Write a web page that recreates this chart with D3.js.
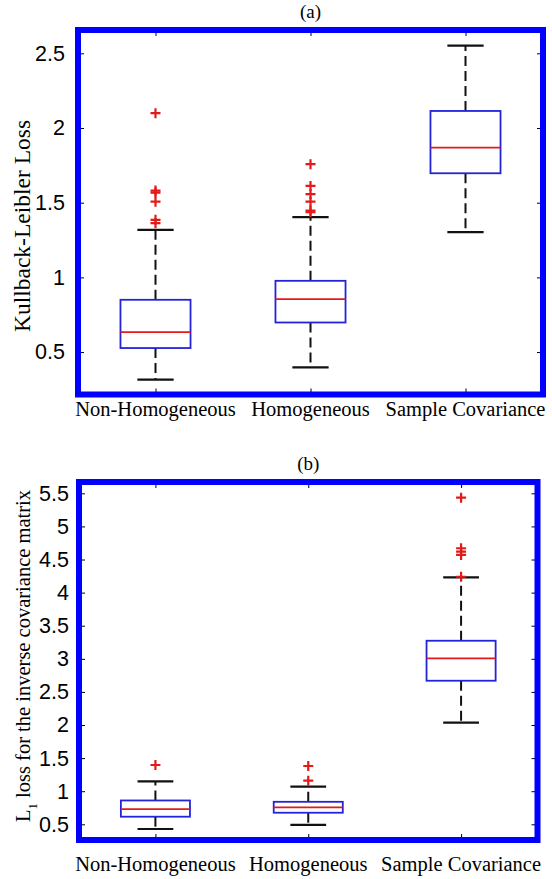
<!DOCTYPE html>
<html>
<head>
<meta charset="utf-8">
<script src="https://cdn.jsdelivr.net/npm/d3@7"></script>
<style>
  html, body { margin: 0; padding: 0; background: #fff; }
  svg { display: block; }
</style>
</head>
<body>
<div id="chart"></div>
<script>
// ---------- data ----------
const categories = ["Non-Homogeneous", "Homogeneous", "Sample Covariance"];

// Panel (a): Kullback-Leibler loss
const klLow      = [0.315, 0.397, 1.303];
const klQ1       = [0.527, 0.698, 1.697];
const klMedian   = [0.634, 0.855, 1.869];
const klQ3       = [0.850, 0.977, 2.114];
const klHigh     = [1.318, 1.403, 2.551];
const klOutliers = [
  [2.099, 1.581, 1.568, 1.507, 1.385, 1.363],
  [1.758, 1.612, 1.557, 1.507, 1.447, 1.436],
  []
];
const klTicks = [0.5, 1, 1.5, 2, 2.5];
const klDomain = [0.216, 2.656];

// Panel (b): L1 loss for the inverse covariance matrix
const l1Low      = [0.429, 0.490, 2.035];
const l1Q1       = [0.615, 0.675, 2.669];
const l1Median   = [0.729, 0.757, 3.008];
const l1Q3       = [0.860, 0.840, 3.273];
const l1High     = [1.148, 1.068, 4.231];
const l1Outliers = [
  [1.396],
  [1.381, 1.159],
  [5.434, 4.670, 4.620, 4.570, 4.240]
];
const l1Ticks = [0.5, 1, 1.5, 2, 2.5, 3, 3.5, 4, 4.5, 5, 5.5];
const l1Domain = [0.263, 5.671];

// ---------- drawing ----------
const W = 552, H = 879;
const svg = d3.select("#chart").append("svg")
  .attr("width", W).attr("height", H)
  .attr("viewBox", `0 0 ${W} ${H}`);
svg.append("rect").attr("width", W).attr("height", H).attr("fill", "#fff");

const SERIF = "'Liberation Serif', 'Times New Roman', Times, serif";
const SANS = "'Liberation Sans', Arial, Helvetica, sans-serif";

function panel(cfg) {
  const { frame, domain, ticks, low, q1, med, q3, high, outliers,
          title, titleY, yLabel, yLabelX, yLabelY, yLabelSize, tickPad, xLabelY } = cfg;
  const x = d3.scaleLinear().domain([0.5, 3.5]).range([frame.left, frame.right]);
  const y = d3.scaleLinear().domain(domain).range([frame.bottom, frame.top]);
  const g = svg.append("g");

  // title
  svg.append("text")
    .attr("x", (frame.left + frame.right) / 2).attr("y", titleY)
    .attr("text-anchor", "middle")
    .style("font-family", SERIF).style("font-size", "19px")
    .text(title);

  // axes (ticks inward)
  const left = d3.axisLeft(y).tickValues(ticks).tickSize(-6).tickPadding(tickPad)
    .tickFormat(d3.format("~g"));
  const gl = g.append("g").attr("transform", `translate(${frame.left},0)`).call(left);
  gl.select(".domain").remove();
  gl.selectAll("text").style("font-family", SANS).style("font-size", "21.5px").attr("fill", "#000");
  gl.selectAll("line").attr("stroke", "#000");

  const right = d3.axisRight(y).tickValues(ticks).tickSize(-6).tickFormat("");
  const gr = g.append("g").attr("transform", `translate(${frame.right},0)`).call(right);
  gr.select(".domain").remove();
  gr.selectAll("line").attr("stroke", "#000");

  const catPos = categories.map((c, i) => i + 1);
  const bottom = d3.axisBottom(x).tickValues(catPos).tickSize(-6).tickPadding(0)
    .tickFormat("");
  const gb = g.append("g").attr("transform", `translate(0,${frame.bottom})`).call(bottom);
  gb.select(".domain").remove();
  gb.selectAll("line").attr("stroke", "#000");
  const top = d3.axisTop(x).tickValues(catPos).tickSize(-6).tickFormat("");
  const gt = g.append("g").attr("transform", `translate(0,${frame.top})`).call(top);
  gt.select(".domain").remove();
  gt.selectAll("line").attr("stroke", "#000");

  // x category labels
  g.selectAll(".xlab").data(categories).enter().append("text")
    .attr("x", (d, i) => x(i + 1)).attr("y", xLabelY)
    .attr("text-anchor", "middle")
    .style("font-family", SERIF).style("font-size", "20.5px")
    .text(d => d);

  // y label
  const yl = svg.append("text")
    .attr("transform", `translate(${yLabelX},${yLabelY}) rotate(-90)`)
    .attr("text-anchor", "middle")
    .style("font-family", SERIF).style("font-size", yLabelSize + "px");
  if (Array.isArray(yLabel)) {
    yl.append("tspan").text(yLabel[0]);
    yl.append("tspan").attr("baseline-shift", "sub").style("font-size", (yLabelSize * 0.62) + "px").text(yLabel[1]);
    yl.append("tspan").text(yLabel[2]);
  } else {
    yl.text(yLabel);
  }

  // boxes
  const boxHalf = 0.226, capHalf = 0.117;
  const bx = g.selectAll(".box").data(categories).enter().append("g");
  // whiskers (dashed)
  bx.append("line")
    .attr("x1", (d, i) => x(i + 1)).attr("x2", (d, i) => x(i + 1))
    .attr("y1", (d, i) => y(q3[i])).attr("y2", (d, i) => y(high[i]))
    .attr("stroke", "#111").attr("stroke-width", 2).attr("stroke-dasharray", "10,5");
  bx.append("line")
    .attr("x1", (d, i) => x(i + 1)).attr("x2", (d, i) => x(i + 1))
    .attr("y1", (d, i) => y(q1[i])).attr("y2", (d, i) => y(low[i]))
    .attr("stroke", "#111").attr("stroke-width", 2).attr("stroke-dasharray", "10,5");
  // caps
  [high, low].forEach(arr => {
    bx.append("line")
      .attr("x1", (d, i) => x(i + 1 - capHalf)).attr("x2", (d, i) => x(i + 1 + capHalf))
      .attr("y1", (d, i) => y(arr[i])).attr("y2", (d, i) => y(arr[i]))
      .attr("stroke", "#111").attr("stroke-width", 2.2);
  });
  // box
  bx.append("rect")
    .attr("x", (d, i) => x(i + 1 - boxHalf))
    .attr("width", (d, i) => x(i + 1 + boxHalf) - x(i + 1 - boxHalf))
    .attr("y", (d, i) => y(q3[i]))
    .attr("height", (d, i) => y(q1[i]) - y(q3[i]))
    .attr("fill", "none").attr("stroke", "#2323d8").attr("stroke-width", 1.8);
  // median
  bx.append("line")
    .attr("x1", (d, i) => x(i + 1 - boxHalf)).attr("x2", (d, i) => x(i + 1 + boxHalf))
    .attr("y1", (d, i) => y(med[i])).attr("y2", (d, i) => y(med[i]))
    .attr("stroke", "#e21a1a").attr("stroke-width", 1.8);
  // outliers
  const pts = [];
  outliers.forEach((arr, i) => arr.forEach(v => pts.push({ c: i + 1, v })));
  const s = 5;
  g.selectAll(".out").data(pts).enter().append("path")
    .attr("d", d => {
      const cx = x(d.c), cy = y(d.v);
      return `M${cx - s},${cy}H${cx + s}M${cx},${cy - s}V${cy + s}`;
    })
    .attr("stroke", "#e21a1a").attr("stroke-width", 2.2).attr("fill", "none");

  // frame
  g.append("rect")
    .attr("x", frame.left).attr("y", frame.top)
    .attr("width", frame.right - frame.left).attr("height", frame.bottom - frame.top)
    .attr("fill", "none").attr("stroke", "#0000ff").attr("stroke-width", 6);
}

panel({
  frame: { left: 78, right: 543, top: 30, bottom: 394.5 },
  domain: klDomain, ticks: klTicks,
  low: klLow, q1: klQ1, med: klMedian, q3: klQ3, high: klHigh, outliers: klOutliers,
  title: "(a)", titleY: 18,
  yLabel: "Kullback-Leibler Loss", yLabelX: 30, yLabelY: 226, yLabelSize: 23.5,
  tickPad: 13, xLabelY: 416
});

panel({
  frame: { left: 79, right: 537.5, top: 482, bottom: 840 },
  domain: l1Domain, ticks: l1Ticks,
  low: l1Low, q1: l1Q1, med: l1Median, q3: l1Q3, high: l1High, outliers: l1Outliers,
  title: "(b)", titleY: 470,
  yLabel: ["L", "1", " loss for the inverse covariance matrix"], yLabelX: 30, yLabelY: 656, yLabelSize: 20.5,
  tickPad: 10, xLabelY: 871
});
</script>
</body>
</html>
